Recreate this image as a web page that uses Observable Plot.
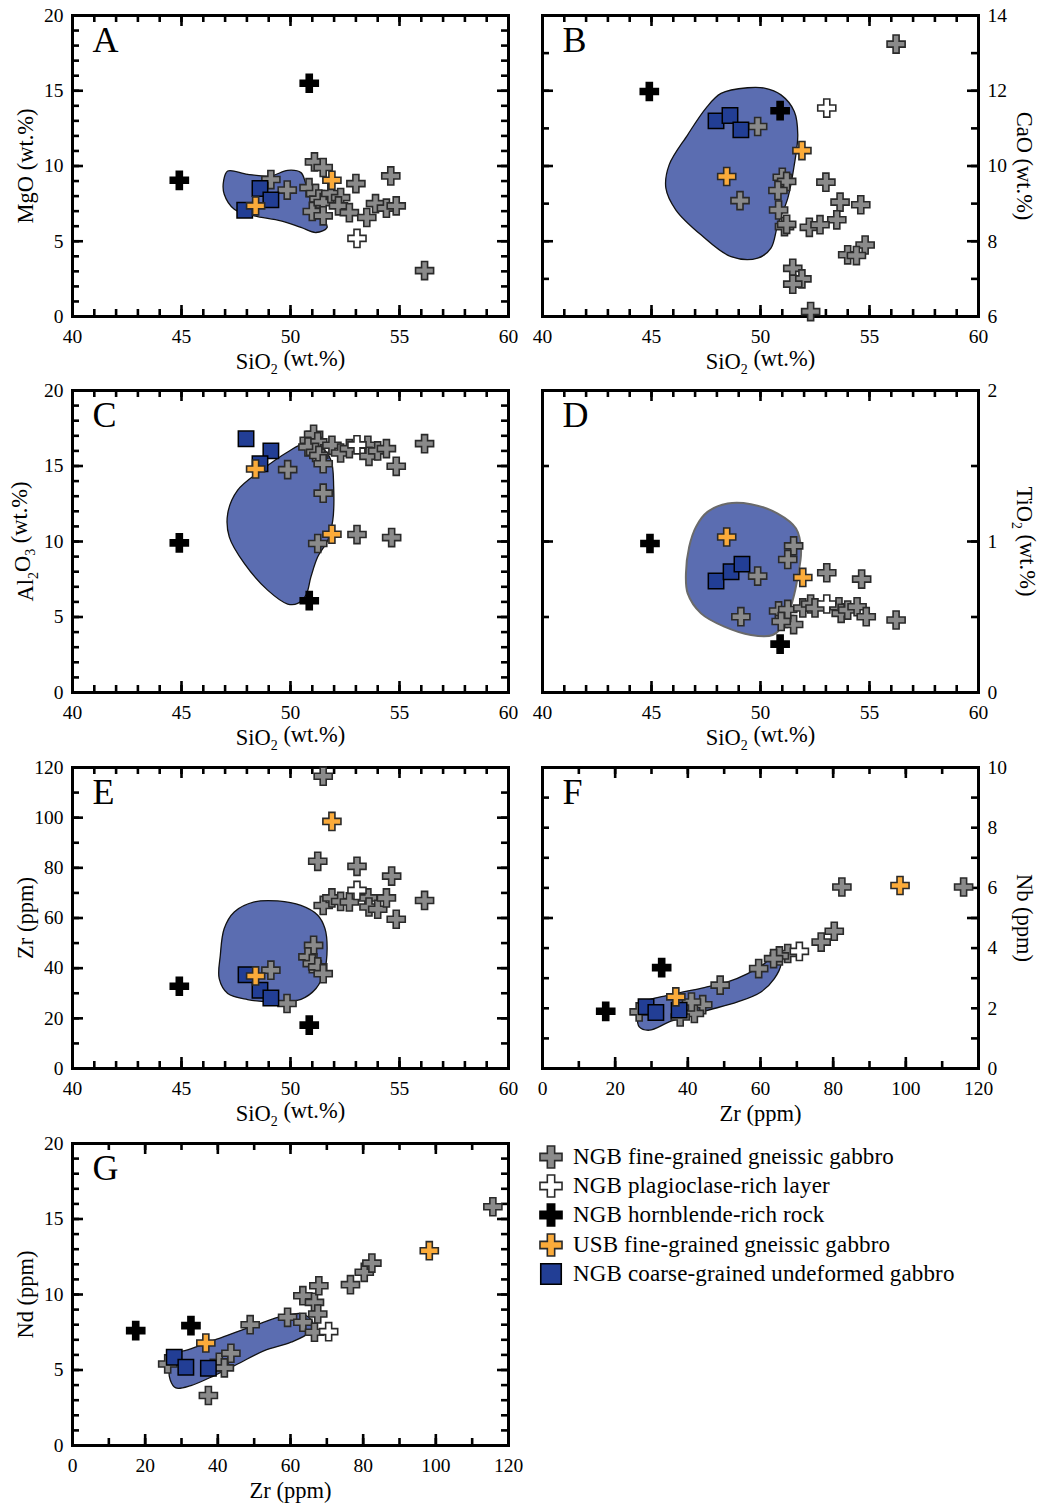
<!DOCTYPE html>
<html><head><meta charset="utf-8">
<script src="https://cdn.jsdelivr.net/npm/d3@7"></script>
<script src="https://cdn.jsdelivr.net/npm/@observablehq/plot@0.6"></script>
<style>
body{margin:0;background:#fff;font-family:"Liberation Serif","Times New Roman",serif;}
#fig{position:relative;width:1042px;height:1506px;overflow:hidden;}
.panel{position:absolute;}
.panel svg{overflow:visible;}
#legend{position:absolute;left:537px;top:1142px;}
.lrow{display:flex;align-items:center;height:29.3px;font-size:23px;letter-spacing:0.15px;color:#000;white-space:nowrap;}
.lrow svg{width:28px;height:28px;margin-right:8px;}
</style></head><body><div id="fig"></div><script>
// ---------- data ----------
const aGray=[[49.1,9.1],[49.85,8.4],[51.1,10.27],[51.5,9.9],[50.85,8.56],[51.15,8.17],[51.3,7.8],[51.0,6.98],[51.5,7.57],[51.5,6.69],[51.85,8.17],[52.3,7.9],[52.2,7.35],[52.7,6.9],[53.0,8.83],[53.5,6.58],[53.9,7.5],[54.4,7.2],[54.85,7.35],[54.6,9.34],[56.15,3.05]];
const aWhite=[[53.05,5.19]];
const aBlack=[[44.9,9.05],[50.86,15.5]];
const aOrange=[[51.9,9.05],[48.4,7.35]];
const aBlue=[[47.9,7.06],[48.6,8.5],[49.1,7.75]];
const aField=[[47.12,9.67],[48.03,9.45],[49.1,9.34],[49.87,9.71],[50.48,9.56],[50.71,8.79],[51.02,7.68],[51.48,6.58],[51.68,5.92],[51.17,5.58],[50.48,5.92],[49.56,6.36],[48.34,6.69],[47.42,7.13],[46.96,8.12],[46.93,9.0]];

const bGray=[[56.22,13.24],[49.87,11.05],[49.06,9.08],[51.0,9.7],[51.2,9.59],[50.8,9.35],[50.83,8.83],[51.1,8.39],[51.2,8.45],[53.0,9.57],[53.65,9.04],[54.6,8.97],[53.5,8.57],[52.24,8.37],[52.73,8.44],[54.8,7.9],[54.0,7.64],[54.4,7.62],[51.48,7.28],[51.9,7.0],[51.48,6.86],[52.3,6.13]];
const bWhite=[[53.04,11.54]];
const bBlack=[[44.9,11.98],[50.9,11.47]];
const bOrange=[[51.9,10.41],[48.45,9.72]];
const bBlue=[[47.96,11.2],[48.6,11.34],[49.1,10.96]];
const bField=[[49.41,12.08],[48.19,11.93],[47.5,11.54],[46.66,10.83],[45.81,10.03],[45.66,9.41],[46.12,8.83],[47.27,8.17],[48.65,7.59],[49.87,7.55],[50.48,7.82],[50.79,8.44],[51.25,9.14],[51.55,10.03],[51.71,10.83],[51.55,11.45],[50.94,11.89],[50.18,12.07]];

const cGray=[[50.86,16.7],[51.06,17.1],[51.25,16.6],[50.8,16.26],[51.15,15.9],[51.3,15.7],[51.5,15.15],[49.87,14.76],[51.5,13.2],[51.9,16.37],[52.3,15.86],[52.7,16.15],[53.55,16.37],[53.6,15.64],[54.0,16.0],[54.4,16.15],[54.85,14.98],[56.15,16.48],[51.25,9.87],[53.05,10.46],[54.64,10.26]];
const cWhite=[[53.05,16.4]];
const cBlack=[[44.9,9.91],[50.86,6.08]];
const cOrange=[[48.4,14.8],[51.9,10.48]];
const cBlue=[[47.96,16.8],[49.1,16.0],[48.6,15.15]];
const cField=[[50.64,16.48],[51.4,16.26],[51.86,15.37],[51.98,13.61],[51.94,11.41],[51.71,10.09],[51.25,8.99],[50.94,7.67],[50.71,6.45],[50.33,5.9],[49.87,5.86],[48.95,6.78],[47.88,8.55],[47.19,10.31],[47.12,11.85],[47.57,13.39],[48.65,14.71],[49.87,15.93]];

const dGray=[[49.87,0.771],[49.1,0.502],[51.52,0.971],[51.25,0.881],[53.04,0.793],[54.64,0.751],[56.22,0.48],[50.83,0.54],[51.1,0.49],[51.52,0.45],[51.25,0.55],[51.94,0.56],[52.3,0.586],[52.5,0.56],[53.6,0.568],[53.7,0.524],[54.0,0.546],[54.43,0.568],[54.85,0.502],[50.95,0.47]];
const dWhite=[[53.04,0.586]];
const dBlack=[[44.93,0.987],[50.9,0.32]];
const dOrange=[[48.45,1.03],[51.94,0.762]];
const dBlue=[[47.96,0.738],[48.65,0.80],[49.15,0.85]];
const dField=[[47.57,1.196],[48.49,1.251],[49.56,1.247],[50.79,1.185],[51.63,1.086],[51.86,0.943],[51.71,0.767],[51.48,0.612],[51.09,0.458],[50.56,0.381],[49.56,0.381],[48.34,0.436],[47.27,0.524],[46.66,0.656],[46.58,0.789],[46.73,0.965],[47.04,1.097]];

const eGray=[[51.5,116.5],[51.25,82.6],[53.05,80.6],[54.64,76.7],[56.15,67.0],[54.85,59.5],[51.5,65.0],[51.9,68.0],[52.3,66.6],[52.7,66.4],[53.55,68.0],[53.6,64.4],[54.0,63.5],[54.4,68.0],[49.1,39.2],[49.84,25.9],[51.06,49.1],[50.8,44.5],[51.0,41.8],[51.25,40.5],[51.5,37.8]];
const eWhite=[[53.05,71.0]];
const eBlack=[[44.9,32.8],[50.86,17.3]];
const eOrange=[[51.9,98.5],[48.4,36.9]];
const eBlue=[[47.96,37.4],[48.6,31.2],[49.1,28.1]];
const eField=[[47.42,62.4],[48.34,66.4],[49.41,66.8],[50.48,65.0],[51.25,61.1],[51.58,55.8],[51.68,47.8],[51.55,38.5],[51.17,31.9],[50.48,27.6],[49.41,26.5],[48.03,27.5],[47.12,29.9],[46.73,35.8],[46.78,45.1],[46.96,55.8]];

const fGray=[[26.6,1.88],[82.4,6.03],[115.9,6.03],[80.3,4.56],[76.7,4.2],[67.5,3.82],[65.2,3.74],[63.6,3.65],[59.5,3.32],[48.9,2.77],[44.1,2.12],[41.8,1.83],[41.0,2.21],[37.9,1.71]];
const fWhite=[[70.7,3.89]];
const fBlack=[[17.4,1.90],[32.8,3.35]];
const fOrange=[[98.4,6.08],[36.7,2.38]];
const fBlue=[[28.5,2.05],[31.2,1.86],[37.6,1.94]];
const fField=[[27.08,2.157],[35.35,2.456],[44.53,2.688],[50.96,2.876],[56.47,3.153],[61.06,3.484],[64.73,3.85],[65.65,3.484],[63.81,2.987],[60.14,2.544],[53.71,2.212],[44.53,1.903],[35.35,1.571],[29.38,1.272],[26.63,1.383],[26.17,1.77]];

const gGray=[[26.2,5.40],[37.4,3.31],[40.4,5.51],[41.8,5.14],[43.6,6.11],[48.9,8.0],[59.2,8.49],[63.4,8.16],[63.4,9.92],[66.6,9.48],[67.8,10.58],[67.5,8.71],[66.6,7.5],[76.5,10.65],[80.3,11.47],[82.4,12.08],[115.7,15.81]];
const gWhite=[[70.5,7.54]];
const gBlack=[[17.4,7.61],[32.6,7.94]];
const gOrange=[[36.7,6.79],[98.2,12.9]];
const gBlue=[[28.0,5.84],[31.2,5.18],[37.4,5.12]];
const gField=[[27.54,6.02],[31.68,6.33],[39.94,7.06],[50.04,7.94],[58.3,8.6],[63.35,8.71],[66.1,8.16],[65.18,7.5],[60.14,6.84],[52.79,6.28],[45.45,5.4],[39.02,4.63],[32.59,3.97],[28.46,3.81],[26.9,4.34],[26.62,5.29]];

// tick labels
const siTicks=[40,45,50,55,60];
const zrTicks=[0,20,40,60,80,100,120];
const mgoTicks=[0,5,10,15,20];
const caoTicks=[6,8,10,12,14];
const alTicks=[0,5,10,15,20];
const tiTicks=[0,1,2];
const zrYTicks=[0,20,40,60,80,100,120];
const nbTicks=[0,2,4,6,8,10];
const ndTicks=[0,5,10,15,20];

const legendItems=["NGB fine-grained gneissic gabbro","NGB plagioclase-rich layer","NGB hornblende-rich rock","USB fine-grained gneissic gabbro","NGB coarse-grained undeformed gabbro"];

// ---------- styling ----------
const FONT='"Liberation Serif","Times New Roman",serif';
const COL={gray:"#8a8a8a",white:"#ffffff",black:"#000000",orange:"#fbab3a",blue:"#223e95",field:"#5b6db1"};
const RC=7.6, RS=8.7;

function subscriptify(svg){
  d3.select(svg).selectAll("text").each(function(){
    const t=this.textContent;
    if(!/(SiO2|Al2O3|TiO2)/.test(t)) return;
    const sel=d3.select(this); sel.text(null);
    const parts=t.split(/(\d)/).filter(s=>s.length);
    let lowered=false;
    parts.forEach(p=>{
      const ts=sel.append("tspan").text(p);
      if(/^\d$/.test(p)){ts.attr("font-size","62%").attr("dy",lowered?null:"0.35em");lowered=true;}
      else if(lowered){ts.attr("dy","-0.35em");lowered=false;}
    });
  });
}

function panel(o){
  const W=o.col===0?520:522, H=375;
  const mL=o.col===0?72:22, mR=o.col===0?12:64, mT=15, mB=o.mB;
  const fw=W-mL-mR, fh=H-mT-mB;
  const side=o.col===0?"left":"right";
  const maj=11, mn=7, tw=2.6;
  const X=d=>d[0], Y=d=>d[1];
  const marks=[
    Plot.line(o.field,{x:X,y:Y,curve:"catmull-rom-closed",fill:COL.field,stroke:o.fieldStroke||"#111",strokeWidth:o.fieldStroke?2:1.3}),
    Plot.ruleX(o.xMinor,{insetTop:fh-mn,strokeWidth:tw}),
    Plot.ruleX(o.xMinor,{insetBottom:fh-mn,strokeWidth:tw}),
    Plot.ruleX(o.xMajor,{insetTop:fh-maj,strokeWidth:tw}),
    Plot.ruleX(o.xMajor,{insetBottom:fh-maj,strokeWidth:tw}),
    Plot.ruleY(o.yMinor,{insetRight:fw-mn,strokeWidth:tw}),
    Plot.ruleY(o.yMinor,{insetLeft:fw-mn,strokeWidth:tw}),
    Plot.ruleY(o.yMajor,{insetRight:fw-maj,strokeWidth:tw}),
    Plot.ruleY(o.yMajor,{insetLeft:fw-maj,strokeWidth:tw}),
    Plot.frame({stroke:"#000",strokeWidth:3}),
    Plot.dot(o.gray,{x:X,y:Y,symbol:"cross",r:RC,fill:COL.gray,stroke:"#2a2a2a",strokeWidth:1.6}),
    Plot.dot(o.white,{x:X,y:Y,symbol:"cross",r:RC,fill:COL.white,stroke:"#2a2a2a",strokeWidth:1.6}),
    Plot.dot(o.black,{x:X,y:Y,symbol:"cross",r:RC,fill:COL.black,stroke:"#000",strokeWidth:1.6}),
    Plot.dot(o.blue,{x:X,y:Y,symbol:"square",r:RS,fill:COL.blue,stroke:"#000",strokeWidth:1.5}),
    Plot.dot(o.orange,{x:X,y:Y,symbol:"cross",r:RC,fill:COL.orange,stroke:"#2a2a2a",strokeWidth:1.6}),
    Plot.axisX(o.xLabels,{anchor:"bottom",tickSize:0,tickPadding:13,fontSize:19.5,label:null,tickFormat:d=>String(d)}),
    Plot.axisY(o.yLabels,{anchor:side,tickSize:0,tickPadding:9,fontSize:19.5,label:null,tickFormat:d=>String(d)}),
    Plot.text([o.xLabel],{text:d=>d,frameAnchor:"bottom",dy:45,fontSize:22.5,textAnchor:"middle",lineAnchor:"middle"}),
    Plot.text([o.yLabel],{text:d=>d,frameAnchor:side,dx:side==="left"?-47:46,rotate:side==="left"?-90:90,fontSize:22.5,textAnchor:"middle",lineAnchor:"middle"}),
    Plot.text([o.letter],{text:d=>d,frameAnchor:"top-left",dx:20,dy:11,textAnchor:"start",lineAnchor:"top",fontSize:36})
  ];
  const svg=Plot.plot({width:W,height:H,marginLeft:mL,marginRight:mR,marginTop:mT,marginBottom:mB,
    x:{domain:o.xDomain},y:{domain:o.yDomain},
    style:{fontFamily:FONT,fontSize:"19px",color:"#000",background:"transparent",overflow:"visible"},
    marks});
  subscriptify(svg);
  const div=document.createElement("div");
  div.className="panel"; div.style.left=(o.col===0?0:520)+"px"; div.style.top=o.top+"px";
  div.appendChild(svg);
  document.getElementById("fig").appendChild(div);
}

const siMinor=d3.range(40,61,1), zrMinor=d3.range(0,121,10);
const rowTop=[0,375,752,1128], rowMB=[59,58,59,58];

panel({col:0,top:rowTop[0],mB:rowMB[0],letter:"A",xDomain:[40,60],yDomain:[0,20],xMinor:siMinor,xMajor:siTicks,xLabels:siTicks,yMinor:d3.range(0,21,1),yMajor:mgoTicks,yLabels:mgoTicks,xLabel:"SiO2 (wt.%)",yLabel:"MgO (wt.%)",field:aField,gray:aGray,white:aWhite,black:aBlack,orange:aOrange,blue:aBlue});
panel({col:1,top:rowTop[0],mB:rowMB[0],letter:"B",xDomain:[40,60],yDomain:[6,14],xMinor:siMinor,xMajor:siTicks,xLabels:siTicks,yMinor:d3.range(6,15,1),yMajor:caoTicks,yLabels:caoTicks,xLabel:"SiO2 (wt.%)",yLabel:"CaO (wt.%)",field:bField,gray:bGray,white:bWhite,black:bBlack,orange:bOrange,blue:bBlue});
panel({col:0,top:rowTop[1],mB:rowMB[1],letter:"C",xDomain:[40,60],yDomain:[0,20],xMinor:siMinor,xMajor:siTicks,xLabels:siTicks,yMinor:d3.range(0,21,1),yMajor:alTicks,yLabels:alTicks,xLabel:"SiO2 (wt.%)",yLabel:"Al2O3 (wt.%)",field:cField,gray:cGray,white:cWhite,black:cBlack,orange:cOrange,blue:cBlue});
panel({col:1,top:rowTop[1],mB:rowMB[1],letter:"D",xDomain:[40,60],yDomain:[0,2],xMinor:siMinor,xMajor:siTicks,xLabels:siTicks,yMinor:[0,0.5,1,1.5,2],yMajor:tiTicks,yLabels:tiTicks,xLabel:"SiO2 (wt.%)",yLabel:"TiO2 (wt.%)",field:dField,fieldStroke:"#6a6a6a",gray:dGray,white:dWhite,black:dBlack,orange:dOrange,blue:dBlue});
panel({col:0,top:rowTop[2],mB:rowMB[2],letter:"E",xDomain:[40,60],yDomain:[0,120],xMinor:siMinor,xMajor:siTicks,xLabels:siTicks,yMinor:d3.range(0,121,10),yMajor:zrYTicks,yLabels:zrYTicks,xLabel:"SiO2 (wt.%)",yLabel:"Zr (ppm)",field:eField,gray:eGray,white:eWhite,black:eBlack,orange:eOrange,blue:eBlue});
panel({col:1,top:rowTop[2],mB:rowMB[2],letter:"F",xDomain:[0,120],yDomain:[0,10],xMinor:zrMinor,xMajor:zrTicks,xLabels:zrTicks,yMinor:d3.range(0,11,1),yMajor:[0,5,10],yLabels:nbTicks,xLabel:"Zr (ppm)",yLabel:"Nb (ppm)",field:fField,gray:fGray,white:fWhite,black:fBlack,orange:fOrange,blue:fBlue});
panel({col:0,top:rowTop[3],mB:rowMB[3],letter:"G",xDomain:[0,120],yDomain:[0,20],xMinor:zrMinor,xMajor:zrTicks,xLabels:zrTicks,yMinor:d3.range(0,21,1),yMajor:ndTicks,yLabels:ndTicks,xLabel:"Zr (ppm)",yLabel:"Nd (ppm)",field:gField,gray:gGray,white:gWhite,black:gBlack,orange:gOrange,blue:gBlue});

// ---------- legend ----------
const legendStyle=[
  {sym:d3.symbolCross,size:270,fill:COL.gray,stroke:"#2a2a2a"},
  {sym:d3.symbolCross,size:270,fill:COL.white,stroke:"#2a2a2a"},
  {sym:d3.symbolCross,size:270,fill:COL.black,stroke:"#000"},
  {sym:d3.symbolCross,size:270,fill:COL.orange,stroke:"#2a2a2a"},
  {sym:d3.symbolSquare,size:420,fill:COL.blue,stroke:"#000"}];
const leg=d3.select("#fig").append("div").attr("id","legend");
legendItems.forEach((label,i)=>{
  const row=leg.append("div").attr("class","lrow");
  const s=legendStyle[i];
  row.append("svg").attr("viewBox","-14 -14 28 28").append("path")
    .attr("d",d3.symbol(s.sym,s.size)()).attr("fill",s.fill).attr("stroke",s.stroke).attr("stroke-width",1.6);
  row.append("span").text(label);
});
</script></body></html>
